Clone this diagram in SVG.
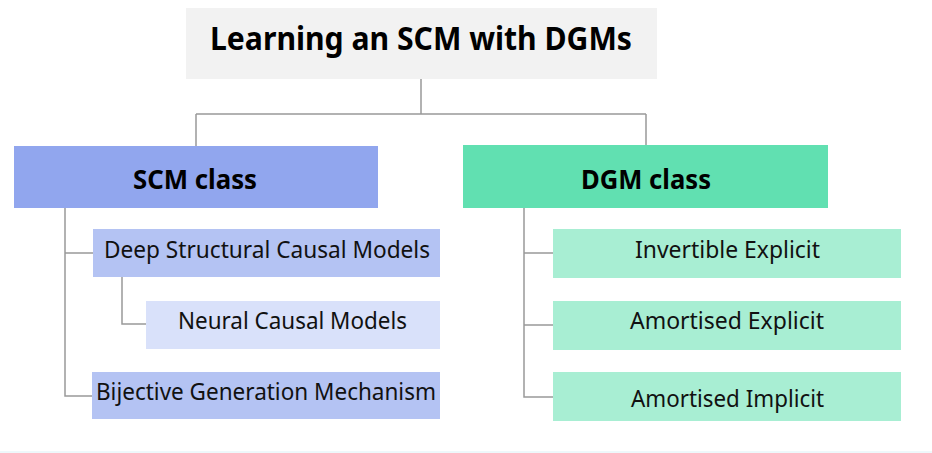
<svg xmlns="http://www.w3.org/2000/svg" width="932" height="453" viewBox="0 0 932 453">
  <style>
    .lbl { font-family: "Noto Sans", "Liberation Sans", sans-serif; font-size: 23px; fill: #111; text-anchor: middle; }
    .hdr { font-family: "Noto Sans", "Liberation Sans", sans-serif; font-size: 27px; font-weight: bold; fill: #000; text-anchor: middle; }
    .ttl { font-family: "Noto Sans", "Liberation Sans", sans-serif; font-size: 32px; font-weight: bold; fill: #000; text-anchor: middle; }
    .link { fill: none; stroke: #999; stroke-width: 1.5; }
  </style>
  <rect width="932" height="453" fill="#fff"/>
  <line x1="0" y1="452" x2="932" y2="452" stroke="#e8f6fa" stroke-width="1.5"/>

  <g id="connectors">
    <path class="link" d="M421 79 V114 M196 114 H646 M196 114 V146 M646 114 V145"/>
    <path class="link" d="M65 208 V396 H92 M65 253 H93"/>
    <path class="link" d="M122 277 V324 H146"/>
    <path class="link" d="M524 208 V397 H553 M524 253 H553 M524 325 H553"/>
  </g>

  <g id="title">
    <rect x="186" y="8" width="471" height="71" fill="#f2f2f2"/>
    <text class="ttl" x="421" y="50" textLength="422" lengthAdjust="spacingAndGlyphs">Learning an SCM with DGMs</text>
  </g>

  <g id="scm-class">
    <rect x="14" y="146" width="364" height="62" fill="#91a6ee"/>
    <text class="hdr" x="195" y="189" textLength="124" lengthAdjust="spacingAndGlyphs">SCM class</text>
  </g>
  <g id="deep-scm">
    <rect x="93" y="229" width="347" height="48" fill="#b4c3f3"/>
    <text class="lbl" x="267" y="258" textLength="326" lengthAdjust="spacingAndGlyphs">Deep Structural Causal Models</text>
  </g>
  <g id="neural-cm">
    <rect x="146" y="301" width="294" height="48" fill="#d9e1fa"/>
    <text class="lbl" x="292.5" y="329" textLength="229" lengthAdjust="spacingAndGlyphs">Neural Causal Models</text>
  </g>
  <g id="bgm">
    <rect x="92" y="372" width="348" height="47" fill="#b4c3f3"/>
    <text class="lbl" x="266" y="400" textLength="340" lengthAdjust="spacingAndGlyphs">Bijective Generation Mechanism</text>
  </g>

  <g id="dgm-class">
    <rect x="463" y="145" width="365" height="63" fill="#61e0b1"/>
    <text class="hdr" x="646" y="189" textLength="130" lengthAdjust="spacingAndGlyphs">DGM class</text>
  </g>
  <g id="invertible-explicit">
    <rect x="553" y="229" width="348" height="49" fill="#a8eed3"/>
    <text class="lbl" x="727.5" y="258" textLength="185" lengthAdjust="spacingAndGlyphs">Invertible Explicit</text>
  </g>
  <g id="amortised-explicit">
    <rect x="553" y="301" width="348" height="49" fill="#a8eed3"/>
    <text class="lbl" x="727" y="329" textLength="194" lengthAdjust="spacingAndGlyphs">Amortised Explicit</text>
  </g>
  <g id="amortised-implicit">
    <rect x="553" y="372" width="348" height="49" fill="#a8eed3"/>
    <text class="lbl" x="727.5" y="407" textLength="193" lengthAdjust="spacingAndGlyphs">Amortised Implicit</text>
  </g>
</svg>
